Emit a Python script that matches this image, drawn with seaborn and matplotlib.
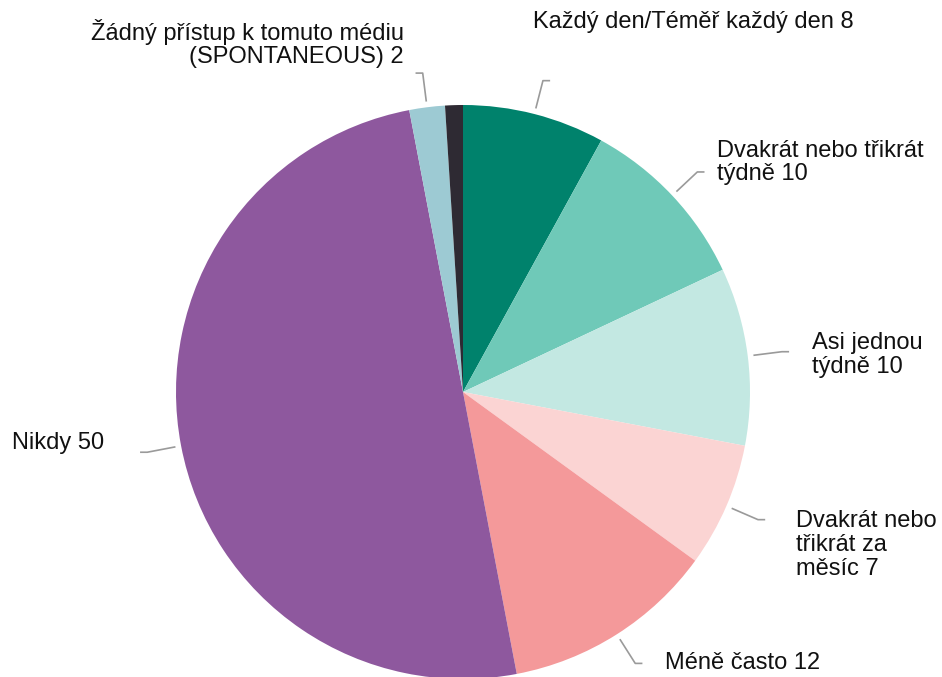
import numpy as np
import matplotlib
matplotlib.use("Agg")
import matplotlib.pyplot as plt
import seaborn as sns

# data
kategorie = [
    "Každý den/Téměř každý den",
    "Dvakrát nebo třikrát\ntýdně",
    "Asi jednou\ntýdně",
    "Dvakrát nebo\ntřikrát za\nměsíc",
    "Méně často",
    "Nikdy",
    "Žádný přístup k tomuto médiu\n(SPONTANEOUS)",
    "",
]
hodnoty = [8, 10, 10, 7, 12, 50, 2, 1]
barvy = ["#00826c", "#6fc9b8", "#c3e8e2", "#fbd4d3", "#f4999a",
         "#8e589e", "#9dcad3", "#2e2a33"]

# label placement (data coords, pie radius = 1)
pozice_textu = [
    (0.244, 1.289, "left"),
    (0.885, 0.800, "left"),
    (1.216, 0.129, "left"),
    (1.160, -0.533, "left"),
    (0.704, -0.944, "left"),
    (-1.571, -0.178, "left"),
    (-0.206, 1.214, "right"),
    None,
]

sns.set_theme(style="white")
plt.rcParams["font.family"] = ["Liberation Sans", "DejaVu Sans"]

fig = plt.figure(figsize=(9.42, 6.77), dpi=100)
ax = fig.add_axes([(463 - 287) / 942, (677 - 392 - 287) / 677, 574 / 942, 574 / 677])

wedges, _ = ax.pie(
    hodnoty,
    colors=sns.color_palette(barvy),
    startangle=90,
    counterclock=False,
    radius=1,
    wedgeprops=dict(linewidth=0),
)
ax.set_xlim(-1, 1)
ax.set_ylim(-1, 1)
ax.set_aspect("equal")
ax.axis("off")

for w, nazev, val, poz in zip(wedges, kategorie, hodnoty, pozice_textu):
    if poz is None:
        continue
    uhel = np.deg2rad((w.theta1 + w.theta2) / 2)
    c, s = np.cos(uhel), np.sin(uhel)
    x0, y0 = 1.02 * c, 1.02 * s
    x1, y1 = 1.12 * c, 1.12 * s
    x2 = x1 + 0.025 * np.sign(c)
    ax.plot([x0, x1, x2], [y0, y1, y1], color="#9a9a9a", lw=1.2,
            clip_on=False, solid_capstyle="butt")
    tx, ty, ha = poz
    ax.text(tx, ty, f"{nazev} {val}", ha=ha, va="center", multialignment=ha,
            fontsize=17, color="#111111", linespacing=1.1, clip_on=False)

fig.savefig("out.png", dpi=100)
